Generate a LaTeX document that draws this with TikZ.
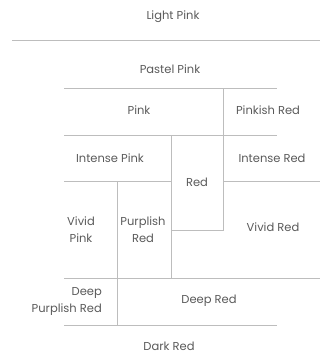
\documentclass[tikz,border=0pt]{standalone}
\usepackage{fontspec}
\setmainfont{Poppins}
\usepackage{tikz}
\usepackage{xcolor}
\definecolor{rule}{HTML}{BDBDBD}
\definecolor{label}{HTML}{5A5A5A}

\begin{document}
\begin{tikzpicture}[
  x=1pt, y=-1pt,
  every node/.style={font=\fontsize{11.5}{17}\selectfont, text=label, inner sep=0pt},
  shade/.style={align=center},
  divider/.style={draw=rule, line width=0.9pt},
]
\useasboundingbox (0,0) rectangle (322,353);

% Outer bands
\node (light)  at (173,17)  {Light Pink};
\node (pastel) at (170,69)  {Pastel Pink};
\node (dark)   at (169,346) {Dark Red};

% Pink rows
\node (pink)     at (139,110) {Pink};
\node (pinkish)  at (268,110) {Pinkish Red};
\node (intpink)  at (110,158) {Intense Pink};
\node (intred)   at (272,158) {Intense Red};
\node (red)      at (197,182) {Red};

% Vivid and deep
\node[shade] (vivpink) at (81,230)  {Vivid\\Pink};
\node[shade] (purpred) at (143,230) {Purplish\\Red};
\node (vivred)         at (273,227) {Vivid Red};
\node[align=right, anchor=east] (deeppurp) at (102,301) {Deep\\Purplish Red};
\node (deepred)        at (209,301) {Deep Red};

% Dividing lines
\draw[divider] (12,40) -- (320,40);
\draw[divider] (64,88) -- (277,88);
\draw[divider] (64,135) -- (277,135);
\draw[divider] (223,88) -- (223,230) -- (171,230);
\draw[divider] (171,135) -- (171,278);
\draw[divider] (64,181) -- (171,181);
\draw[divider] (223,181) -- (320,181);
\draw[divider] (117,181) -- (117,325);
\draw[divider] (64,278) -- (320,278);
\draw[divider] (64,325) -- (277,325);
\end{tikzpicture}
\end{document}
